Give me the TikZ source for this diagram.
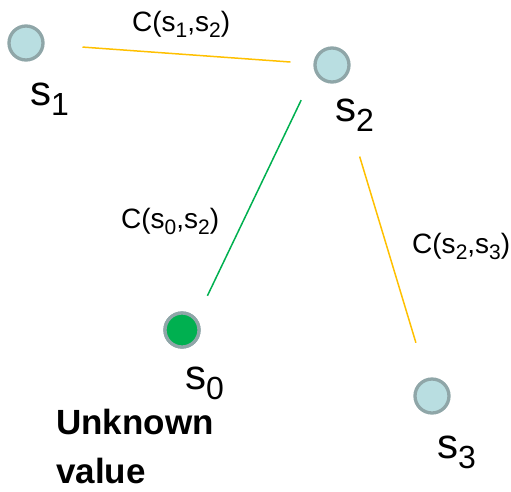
\documentclass[tikz,border=0pt]{standalone}
\usepackage{fontspec}
\setmainfont{Liberation Sans}

\definecolor{siteblue}{HTML}{B9DEE1}
\definecolor{ringgrey}{HTML}{8FA6A8}
\definecolor{seedgreen}{HTML}{00B050}
\definecolor{amberline}{HTML}{FFC000}

\newcommand\bigsub[1]{\raisebox{-10pt}{\fontsize{32}{36}\selectfont #1}}
\newcommand\smallsub[1]{\raisebox{-6pt}{\fontsize{21}{24}\selectfont #1}}

\begin{document}
\begin{tikzpicture}[
  x = 1pt, y = -1pt,
  site/.style     = {circle, draw=ringgrey, line width=3.3pt, fill=siteblue,
                     minimum size=34pt, inner sep=0pt},
  sitename/.style = {anchor=base west, inner sep=0pt,
                     font=\fontsize{42}{46}\selectfont},
  cost/.style     = {anchor=base west, inner sep=0pt,
                     font=\fontsize{28}{32}\selectfont},
  link/.style     = {line width=1.5pt},
]

\useasboundingbox (0, 0) rectangle (511, 491);

\foreach \id/\x/\y/\lx/\ly in {%
    1/26/43/30/105,
    2/332/65/335/121,
    0/182/330/185/389,
    3/432/396/437/458%
  }{%
    \node[site] (s\id) at (\x, \y) {};
    \node[sitename] (s\id-name) at (\lx, \ly) {s\bigsub{\id}};
  }

% the unknown one
\node[site, fill=seedgreen] at (s0) {};

\node[cost] (c12) at (132, 31)  {C(s\smallsub{1},s\smallsub{2})};
\node[cost] (c02) at (121, 228) {C(s\smallsub{0},s\smallsub{2})};
\node[cost] (c23) at (412, 253) {C(s\smallsub{2},s\smallsub{3})};

\node[anchor=north west, inner sep=0pt, align=left,
      font=\bfseries\fontsize{35}{49}\selectfont] (unknown) at (56, 409)
  {Unknown\\value};

\draw[link, amberline, shorten <=38pt, shorten >=23pt] (s1) -- (s2);
\draw[link, amberline, shorten <=77pt, shorten >=37pt] (s2) -- (s3);
\draw[link, seedgreen, shorten <=39pt, shorten >=38pt]
  ([xshift=-14pt]s2.center) -- ([xshift=9pt]s0.center);

\end{tikzpicture}
\end{document}
